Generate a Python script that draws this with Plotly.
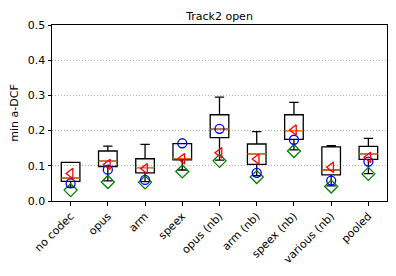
import plotly.graph_objects as go

categories = ["no codec", "opus", "arm", "speex", "opus (nb)", "arm (nb)",
              "speex (nb)", "various (nb)", "pooled"]
q1 = [0.056, 0.098, 0.080, 0.117, 0.180, 0.104, 0.175, 0.074, 0.118]
median = [0.065, 0.113, 0.095, 0.120, 0.204, 0.134, 0.200, 0.088, 0.134]
q3 = [0.110, 0.142, 0.120, 0.163, 0.245, 0.162, 0.245, 0.154, 0.155]
lower = [0.039, 0.057, 0.055, 0.088, 0.116, 0.072, 0.145, 0.043, 0.078]
upper = [0.110, 0.156, 0.161, 0.163, 0.295, 0.197, 0.280, 0.157, 0.178]
green_vals = [0.031, 0.054, 0.053, 0.084, 0.114, 0.068, 0.142, 0.041, 0.077]
blue_vals = [0.050, 0.089, 0.060, 0.164, 0.205, 0.080, 0.174, 0.058, 0.112]
red_vals = [0.078, 0.104, 0.092, 0.120, 0.137, 0.119, 0.202, 0.096, 0.124]
y_ticks = [0.0, 0.1, 0.2, 0.3, 0.4, 0.5]

pos = list(range(1, len(categories) + 1))
half = 0.25

fig = go.Figure()
fig.add_trace(go.Box(
    x=pos, q1=q1, median=median, q3=q3, lowerfence=lower, upperfence=upper,
    width=0.5, whiskerwidth=0.5, boxpoints=False,
    fillcolor="rgba(0,0,0,0)", line=dict(color="black", width=1.3),
    hoverinfo="skip", showlegend=False,
))

mx, my = [], []
for p, m in zip(pos, median):
    mx += [p - half, p + half, None]
    my += [m, m, None]
fig.add_trace(go.Scatter(x=mx, y=my, mode="lines",
                         line=dict(color="#ff7f0e", width=1.3),
                         hoverinfo="skip", showlegend=False))

for vals, sym, col, sz in [(green_vals, "diamond-open", "green", 10),
                           (blue_vals, "circle-open", "blue", 9),
                           (red_vals, "triangle-left-open", "red", 9)]:
    fig.add_trace(go.Scatter(x=pos, y=vals, mode="markers",
                             marker=dict(symbol=sym, color=col, size=sz,
                                         line=dict(color=col, width=1.3)),
                             hoverinfo="skip", showlegend=False))

font = "DejaVu Sans"
fs = 11
fig.update_layout(
    width=396, height=276,
    margin=dict(l=52, r=9, t=25, b=75, autoexpand=False),
    paper_bgcolor="white", plot_bgcolor="white",
    font=dict(family=font, size=fs, color="black"),
    title=dict(text="Track2 open", x=0.5, xanchor="center", xref="paper",
               y=1, yref="paper", yanchor="bottom", pad=dict(b=5),
               automargin=False,
               font=dict(family=font, size=fs, color="black")),
    xaxis=dict(range=[0.5, 9.5], tickvals=pos, ticktext=categories,
               tickangle=-45, showgrid=False, zeroline=False, automargin=False,
               showline=True, linecolor="black", linewidth=1, mirror=True,
               ticks="outside", ticklen=3.5, tickcolor="black",
               tickfont=dict(size=fs)),
    yaxis=dict(range=[0, 0.5], tickvals=y_ticks, automargin=False,
               ticktext=[f"{v:.1f}" for v in y_ticks],
               showgrid=True, gridcolor="#b0b0b0", griddash="1px,2px",
               gridwidth=1,
               zeroline=False, showline=True, linecolor="black", linewidth=1,
               mirror=True, ticks="outside", ticklen=3.5, tickcolor="black",
               title=dict(text="min a-DCF", font=dict(size=fs), standoff=6),
               tickfont=dict(size=fs)),
)

fig.write_html("out.html", config={"displayModeBar": False},
               post_script="document.body.style.margin='0';")
